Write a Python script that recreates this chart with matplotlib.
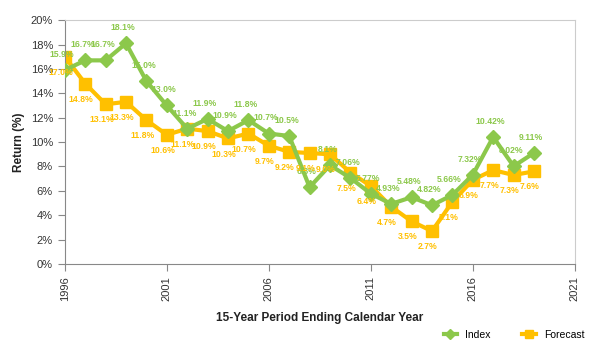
import matplotlib.pyplot as plt
import numpy as np

plt.rcParams['font.family'] = ['Liberation Sans', 'DejaVu Sans']

years = list(range(1996, 2020))
index_vals = [15.9, 16.7, 16.7, 18.1, 15.0, 13.0, 11.1, 11.9, 10.9, 11.8, 10.7, 10.5,
              6.3, 8.1, 7.06, 5.77, 4.93, 5.48, 4.82, 5.66, 7.32, 10.42, 8.02, 9.11]
index_labels = ['15.9%', '16.7%', '16.7%', '18.1%', '15.0%', '13.0%', '11.1%', '11.9%',
                '10.9%', '11.8%', '10.7%', '10.5%', '6.3%', '8.1%', '7.06%', '5.77%',
                '4.93%', '5.48%', '4.82%', '5.66%', '7.32%', '10.42%', '8.02%', '9.11%']
forecast_vals = [17.0, 14.8, 13.1, 13.3, 11.8, 10.6, 11.1, 10.9, 10.3, 10.7, 9.7, 9.2,
                 9.1, 9.0, 7.5, 6.4, 4.7, 3.5, 2.7, 5.1, 6.9, 7.7, 7.3, 7.6]
forecast_labels = ['17.0%', '14.8%', '13.1%', '13.3%', '11.8%', '10.6%', '11.1%', '10.9%',
                   '10.3%', '10.7%', '9.7%', '9.2%', '9.1%', '9.0%', '7.5%', '6.4%',
                   '4.7%', '3.5%', '2.7%', '5.1%', '6.9%', '7.7%', '7.3%', '7.6%']

green = '#8CC84B'
orange = '#FFC000'

fig = plt.figure(figsize=(6, 3.53), dpi=100)
ax = fig.add_axes([0.108, 0.252, 0.85, 0.691])

ax.plot(years, index_vals, color=green, lw=3, marker='D', ms=7, label='Index', zorder=3)
ax.plot(years, forecast_vals, color=orange, lw=3, marker='s', ms=8, label='Forecast', zorder=2)

for x, y, t in zip(years, index_vals, index_labels):
    ax.annotate(t, (x, y), xytext=(-2, 8), textcoords='offset points', ha='center',
                va='bottom', color=green, fontsize=6.2, fontweight='bold', zorder=5)
for x, y, t in zip(years, forecast_vals, forecast_labels):
    ax.annotate(t, (x, y), xytext=(-3, -8), textcoords='offset points', ha='center',
                va='top', color=orange, fontsize=6.2, fontweight='bold', zorder=5)

ax.set_xlim(1996, 2021)
ax.set_ylim(0, 20)
ax.set_xticks(range(1996, 2022, 5))
ax.set_xticklabels([str(y) for y in range(1996, 2022, 5)], rotation=90, fontsize=8, color='#333333')
ax.set_yticks(range(0, 21, 2))
ax.set_yticklabels([f'{v}%' for v in range(0, 21, 2)], fontsize=8, color='#333333')
ax.tick_params(axis='both', direction='out', length=5, color='#888888')

for s in ['left', 'bottom']:
    ax.spines[s].set_color('#888888')
for s in ['top', 'right']:
    ax.spines[s].set_color('#cccccc')

ax.set_ylabel('Return (%)', fontsize=8.5, fontweight='bold', color='#222222')
ax.set_xlabel('15-Year Period Ending Calendar Year', fontsize=8.5, fontweight='bold',
              color='#222222', labelpad=8)

fig.legend(loc='lower right', bbox_to_anchor=(0.99, 0.01), ncol=2, frameon=False,
           fontsize=7.5, handlelength=1.3, columnspacing=3, markerscale=0.8)

plt.savefig('out.png', dpi=100)
